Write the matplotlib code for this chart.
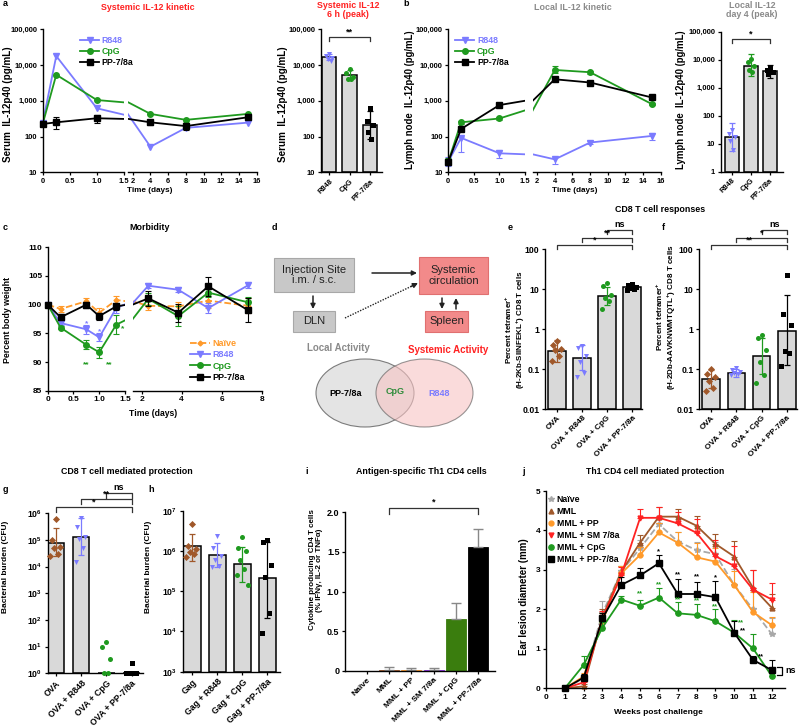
import matplotlib
matplotlib.use('Agg')
import matplotlib.pyplot as plt
import numpy as np
from matplotlib.patches import Ellipse, Rectangle
from matplotlib.lines import Line2D
from matplotlib.ticker import FuncFormatter, NullLocator
import matplotlib.transforms as mtransforms

plt.rcParams['font.family'] = ['Liberation Sans', 'DejaVu Sans']
plt.rcParams['font.weight'] = 'bold'
plt.rcParams['axes.linewidth'] = 1.0
plt.rcParams['font.size'] = 5.5
plt.rcParams['mathtext.fontset'] = 'custom'
plt.rcParams['mathtext.rm'] = 'Liberation Sans:bold'
plt.rcParams['mathtext.it'] = 'Liberation Sans:bold'
plt.rcParams['mathtext.bf'] = 'Liberation Sans:bold'

# ---------------- data ----------------
# a / b : IL-12 kinetics
t_kin = [0, 0.25, 1.0, 4, 8, 15]
a_r848 = [240, 17900, 616, 52, 175, 245]
a_cpg = [225, 5350, 1050, 430, 293, 430]
a_pp = [225, 250, 325, 250, 196, 346]
a_pp_lo = [195, 165, 235, 215, 150, 300]
a_pp_hi = [260, 360, 400, 290, 240, 400]

b_r848 = [20, 92, 34, 23, 68, 104]
b_r848_lo = [15, 36, 25, 17, 60, 78]
b_r848_hi = [26, 100, 41, 27, 75, 125]
b_cpg = [20, 250, 320, 7300, 6300, 810]
b_cpg_lo = [16, 225, 290, 6000, 5800, 750]
b_cpg_hi = [25, 275, 350, 9300, 6800, 870]
b_pp = [20, 163, 760, 4000, 3250, 1240]

# peak bars (a right, b right)
peak_names = ['R848', 'CpG', 'PP-7/8a']
a_peak_mean = [16500, 5300, 210]
a_peak_lo = [13500, 4000, 85]
a_peak_hi = [21000, 7500, 530]
a_peak_pts = [[21000, 18000, 16000, 15000, 13000],
              [7800, 6000, 4500, 4200, 4000],
              [620, 270, 210, 130, 85]]
b_peak_mean = [18, 6200, 3800]
b_peak_lo = [5.5, 2600, 2300]
b_peak_hi = [53, 16000, 6500]
b_peak_pts = [[30, 23, 17, 12, 6],
              [11000, 8500, 6000, 4300, 3500],
              [5000, 4400, 3700, 3000]]

# c : morbidity
t_c = [0, 0.25, 0.75, 1.0, 1.33, 2.33, 3.83, 5.33, 7.33]
c_naive = [100, 99.25, 100.6, 98.6, 100.8, 99.8, 99.7, 100.7, 99.8]
c_r848 = [100, 96.8, 95.7, 94.3, 99.4, 103.3, 102.6, 99.4, 103.4]
c_cpg = [100, 96.0, 93.0, 91.7, 96.5, 101.0, 98.0, 102.1, 100.4]
c_pp = [100, 97.8, 100.0, 98.0, 99.7, 101.1, 98.6, 103.2, 99.0]
c_naive_err = [0, 0.6, 0.6, 0.8, 0.7, 0.8, 0.8, 1.2, 1.3]
c_r848_err = [0, 0.4, 0.8, 0.7, 0.8, 0.4, 0.4, 0.9, 0.5]
c_cpg_err = [0, 0.3, 0.8, 1.0, 1.7, 1.0, 1.7, 0.8, 1.0]
c_pp_err = [0, 0.5, 0.5, 0.6, 0.6, 1.3, 1.6, 1.7, 2.1]

# e / f : tetramer
ef_names = ['OVA', 'OVA + R848', 'OVA + CpG', 'OVA + PP-7/8a']
e_mean = [0.29, 0.19, 6.8, 11.3]
e_lo = [0.155, 0.095, 4.1, 10.0]
e_hi = [0.54, 0.41, 11.7, 12.5]
e_pts = [[0.5, 0.4, 0.33, 0.3, 0.22, 0.16],
         [0.38, 0.34, 0.22, 0.15, 0.08, 0.065],
         [14.5, 12, 7, 6, 5, 3.3],
         [13.5, 12.5, 11.5, 11, 10, 9.5]]
f_mean = [0.057, 0.079, 0.22, 0.91]
f_lo = [0.034, 0.065, 0.077, 0.125]
f_hi = [0.095, 0.1, 0.6, 7.2]
f_pts = [[0.1, 0.075, 0.065, 0.05, 0.035, 0.028],
         [0.11, 0.095, 0.085, 0.08, 0.075, 0.07],
         [0.7, 0.6, 0.3, 0.15, 0.07, 0.045],
         [23, 2.4, 1.3, 0.28, 0.26, 0.12]]

# g / h : bacterial burden
g_mean = [79000, 126000, 1, 1]
g_lo = [24000, 27000, None, None]
g_hi = [270000, 650000, None, None]
g_pts = [[600000, 100000, 56000, 50000, 30000, 25000],
         [650000, 300000, 130000, 110000, 50000, 15000],
         [15, 10, 3.5, 1, 1],
         [2.5, 1, 1, 1, 1, 1]]
h_names = ['Gag', 'Gag + R848', 'Gag + CpG', 'Gag + PP-7/8a']
h_mean = [1.32e6, 7.9e5, 4.7e5, 2.1e5]
h_lo = [5.7e5, 4.0e5, 1.7e5, 2.1e4]
h_hi = [2.7e6, 1.55e6, 1.27e6, 1.7e6]
h_pts = [[4.7e6, 1.3e6, 1.1e6, 9.5e5, 8.5e5, 7e5],
         [2.3e6, 1.2e6, 7.5e5, 6e5, 4.2e5, 4e5],
         [2.2e6, 1.2e6, 1.0e6, 6e5, 3.5e5, 2.5e5, 1.4e5],
         [1.9e6, 1.7e6, 4.5e5, 2.3e5, 2.8e4, 8.9e3]]

# i : Th1 CD4
i_names = ['Naïve', 'MML', 'MML + PP', 'MML + SM 7/8a', 'MML + CpG', 'MML + PP-7/8a']
i_mean = [0, 0.012, 0.012, 0.012, 0.65, 1.56]
i_err = [0, 0.03, 0.025, 0.02, 0.21, 0.23]

# j : ear lesion
weeks = [1, 2, 3, 4, 5, 6, 7, 8, 9, 10, 11, 12]
j_naive = [0, 0.25, 1.9, 2.96, 3.55, 4.16, 3.72, 3.5, 3.4, 2.62, 2.0, 1.37]
j_mml = [0, 0.05, 1.8, 2.95, 3.69, 4.35, 4.35, 4.12, 3.66, 3.34, 2.55, 2.04]
j_pp = [0, 0.3, 1.7, 2.91, 3.38, 3.95, 3.69, 3.32, 3.21, 2.62, 1.93, 1.6]
j_sm = [0, 0.15, 1.77, 2.87, 4.32, 4.32, 4.18, 3.94, 3.35, 3.1, 2.5, 2.25]
j_cpg = [0, 0.59, 1.54, 2.25, 2.09, 2.3, 1.9, 1.86, 1.7, 1.41, 1.01, 0.31]
j_pp78 = [0, 0.27, 1.77, 2.62, 2.86, 3.17, 2.39, 2.39, 2.31, 1.41, 0.72, 0.46]
j_naive_err = [0, 0.05, 0.3, 0.15, 0.2, 0.2, 0.25, 0.2, 0.3, 0.4, 0.5, 0.4]
j_mml_err = [0, 0.05, 0.2, 0.15, 0.2, 0.25, 0.2, 0.25, 0.25, 0.4, 0.45, 0.35]
j_pp_err = [0, 0.1, 0.2, 0.2, 0.2, 0.25, 0.28, 0.35, 0.35, 0.35, 0.5, 0.2]
j_sm_err = [0, 0.05, 0.2, 0.2, 0.22, 0.28, 0.3, 0.35, 0.4, 0.5, 0.5, 0.42]
j_cpg_err = [0, 0.22, 0.15, 0.1, 0.15, 0.25, 0.28, 0.28, 0.3, 0.32, 0.36, 0.1]
j_pp78_err = [0, 0.1, 0.15, 0.2, 0.18, 0.22, 0.37, 0.3, 0.4, 0.3, 0.1, 0.25]

# colours
BLUE = '#7b7bff'
GREEN = '#1f9a1f'
ORANGE = '#ff9a2a'
BROWN = '#a0582a'
RED = '#ff2222'
GREYT = '#8a8a8a'
BARC = '#d9d9d9'

W, H = 800, 727
fig = plt.figure(figsize=(8, 7.27), dpi=100)


def px_ax(x0, y0, x1, y1):
    return fig.add_axes([x0 / W, 1 - y1 / H, (x1 - x0) / W, (y1 - y0) / H])


def ftext(x, y, s, **kw):
    kw.setdefault('ha', 'center')
    kw.setdefault('va', 'center')
    fig.text(x / W, 1 - y / H, s, **kw)


def style(ax, fs=5.4):
    for s in ['top', 'right']:
        ax.spines[s].set_visible(False)
    ax.tick_params(labelsize=fs, width=0.9, length=2.5, pad=1.5)


comma = FuncFormatter(lambda v, p: f'{v:,.0f}')
plain = FuncFormatter(lambda v, p: f'{v:g}')
power = FuncFormatter(lambda v, p: r'$10^{%d}$' % int(round(np.log10(v))))


def jitter(n):
    base = [0, -0.16, 0.16, -0.08, 0.08, -0.22, 0.22]
    return np.array(base[:n])


def bracket(ax, x1, x2, yf, txt, leg=0.028, fs=6.5):
    tr = mtransforms.blended_transform_factory(ax.transData, ax.transAxes)
    ax.plot([x1, x1, x2, x2], [yf - leg, yf, yf, yf - leg], color='#333333', lw=0.9,
            transform=tr, clip_on=False)
    ax.text((x1 + x2) / 2, yf + 0.005, txt, ha='center', va='bottom', fontsize=fs,
            transform=tr)


def bar_panel(ax, names, means, lo, hi, pts, colors, markers, bottom, width=0.68,
              ms=3.6, fs=5.4, xfs=5.4):
    x = np.arange(len(names))
    ax.bar(x, np.array(means) - bottom, bottom=bottom, width=width, color=BARC,
           edgecolor='k', lw=1.1, zorder=1)
    for i in range(len(names)):
        p = pts[i]
        ax.scatter(i + jitter(len(p)), p, marker=markers[i], color=colors[i],
                   s=ms ** 2, zorder=3, clip_on=False, lw=0)
        if lo[i] is not None:
            ax.errorbar(i, means[i], yerr=[[means[i] - lo[i]], [hi[i] - means[i]]],
                        fmt='none', ecolor=colors[i], capsize=2.2, elinewidth=0.9,
                        capthick=0.9, zorder=4)
    ax.set_xticks(x)
    ax.set_xticklabels(names, rotation=45, ha='right', rotation_mode='anchor')
    style(ax, fs)
    ax.tick_params(axis='x', labelsize=xfs)


def kinetic(xl0, xl1, xr0, xr1, yt, yb, ylim, xr_lim, t, series, xticksR, fmt):
    axL = px_ax(xl0, yt, xl1, yb)
    axR = px_ax(xr0, yt, xr1, yb)
    handles = []
    for ax, lim in ((axL, (0, 1.5)), (axR, xr_lim)):
        ax.set_yscale('log')
        ax.set_ylim(ylim)
        ax.set_xlim(lim)
        for label, y, lo, hi, col, mk, ls in series:
            ax.plot(t, y, color=col, lw=1.3, ls=ls)
            tt = np.array(t)
            yy = np.array(y)
            m = (tt >= lim[0]) & (tt <= lim[1])
            ax.plot(tt[m], yy[m], ls='none', marker=mk, color=col, ms=4, clip_on=False)
            if lo is not None:
                lo_a, hi_a = np.array(lo), np.array(hi)
                ax.errorbar(tt[m], yy[m], yerr=[yy[m] - lo_a[m], hi_a[m] - yy[m]],
                            fmt='none', ecolor=col, capsize=2, elinewidth=0.8,
                            capthick=0.8, clip_on=False)
            if ax is axL:
                handles.append(Line2D([], [], color=col, lw=1.3, ls=ls, marker=mk,
                                      ms=4, label=label))
        style(ax, 5.4)
        ax.yaxis.set_minor_locator(NullLocator())
    axL.yaxis.set_major_formatter(fmt)
    axL.set_xticks([0, 0.5, 1.0, 1.5])
    axL.set_xticklabels(['0', '0.5', '1.0', '1.5'])
    axR.set_xticks(xticksR)
    axR.spines['left'].set_visible(False)
    axR.tick_params(left=False, labelleft=False)
    return axL, axR, handles


def colored_legend(handles, x, y, fs=6.3, textcolor=True):
    leg = fig.legend(handles=handles, loc='upper left', bbox_to_anchor=(x / W, 1 - y / H),
                     frameon=False, fontsize=fs, handlelength=2.2, handletextpad=0.3,
                     labelspacing=0.25, borderaxespad=0, borderpad=0)
    if textcolor:
        for txt, h in zip(leg.get_texts(), handles):
            txt.set_color(h.get_color())
    return leg


# ---------------- panel a ----------------
axL, axR, hs = kinetic(42.7, 124, 128.3, 256.7, 29.3, 172.3, (10, 100000), (1.5, 16),
                       t_kin,
                       [('R848', a_r848, None, None, BLUE, 'v', '-'),
                        ('CpG', a_cpg, None, None, GREEN, 'o', '-'),
                        ('PP-7/8a', a_pp, a_pp_lo, a_pp_hi, 'k', 's', '-')],
                       [2, 4, 6, 8, 10, 12, 14, 16], comma)
colored_legend(hs, 80, 36)
ftext(150, 190, 'Time (days)', fontsize=5.9)
ftext(8, 104, 'Serum  IL-12p40 (pg/mL)', rotation=90, fontsize=7.1)
ftext(148, 7, 'Systemic IL-12 kinetic', color=RED, fontsize=6.4)

ax = px_ax(320.7, 29.3, 382, 172.3)
ax.set_yscale('log')
ax.set_ylim(10, 100000)
bar_panel(ax, peak_names, a_peak_mean, a_peak_lo, a_peak_hi, a_peak_pts,
          [BLUE, GREEN, 'k'], ['v', 'o', 's'], 10, width=0.7)
ax.set_xlim(-0.42, 2.6)
ax.yaxis.set_minor_locator(NullLocator())
ax.yaxis.set_major_formatter(comma)
bracket(ax, 0, 2, 0.944, '**')
ftext(283, 104, 'Serum  IL-12p40 (pg/mL)', rotation=90, fontsize=7.1)
ftext(348, 10, 'Systemic IL-12\n6 h (peak)', color=RED, fontsize=6.4, linespacing=1.1)

# ---------------- panel b ----------------
axL, axR, hs = kinetic(448.3, 525, 532.7, 660.7, 29.3, 172.3, (10, 100000), (1.5, 16),
                       t_kin,
                       [('R848', b_r848, b_r848_lo, b_r848_hi, BLUE, 'v', '-'),
                        ('CpG', b_cpg, b_cpg_lo, b_cpg_hi, GREEN, 'o', '-'),
                        ('PP-7/8a', b_pp, None, None, 'k', 's', '-')],
                       [2, 4, 6, 8, 10, 12, 14, 16], comma)
colored_legend(hs, 455, 36)
ftext(575, 190, 'Time (days)', fontsize=5.9)
ftext(410, 100, 'Lymph node  IL-12p40 (pg/mL)', rotation=90, fontsize=6.9)
ftext(573, 7, 'Local IL-12 kinetic', color=GREYT, fontsize=6.4)

ax = px_ax(720.7, 31.7, 783, 171.7)
ax.set_yscale('log')
ax.set_ylim(1, 100000)
bar_panel(ax, peak_names, b_peak_mean, b_peak_lo, b_peak_hi, b_peak_pts,
          [BLUE, GREEN, 'k'], ['v', 'o', 's'], 1, width=0.75)
ax.set_xlim(-0.58, 2.7)
ax.yaxis.set_minor_locator(NullLocator())
ax.yaxis.set_major_formatter(comma)
bracket(ax, 0, 2, 0.946, '*')
ftext(681, 100, 'Lymph node  IL-12p40 (pg/mL)', rotation=90, fontsize=6.9)
ftext(752, 10, 'Local IL-12\nday 4 (peak)', color=GREYT, fontsize=6.4, linespacing=1.1)

# ---------------- panel c ----------------
axL = px_ax(47.7, 247.3, 125, 390.7)
axR = px_ax(132.7, 247.3, 261.7, 390.7)
c_series = [('Naïve', c_naive, c_naive_err, ORANGE, 'D', '--', 2.5),
            ('R848', c_r848, c_r848_err, BLUE, 'v', '-', 4),
            ('CpG', c_cpg, c_cpg_err, GREEN, 'o', '-', 4),
            ('PP-7/8a', c_pp, c_pp_err, 'k', 's', '-', 4)]
c_handles = []
for ax, lim in ((axL, (0, 1.5)), (axR, (1.55, 8))):
    ax.set_xlim(lim)
    ax.set_ylim(85, 110)
    tt = np.array(t_c)
    m = (tt >= lim[0]) & (tt <= lim[1])
    for label, y, err, col, mk, ls, ms in c_series:
        yy = np.array(y)
        ee = np.array(err)
        ax.plot(tt, yy, color=col, lw=1.3, ls=ls)
        ax.errorbar(tt[m], yy[m], yerr=ee[m], fmt='none', ecolor=col, capsize=2,
                    elinewidth=0.8, capthick=0.8, clip_on=False)
        ax.plot(tt[m], yy[m], ls='none', marker=mk, ms=ms, color=col, clip_on=False)
        if ax is axL:
            c_handles.append(Line2D([], [], color=col, lw=1.3, ls=ls, marker=mk, ms=ms,
                                    label=label))
    style(ax, 6.0)
axL.set_yticks([85, 90, 95, 100, 105, 110])
axL.set_xticks([0, 0.5, 1.0, 1.5])
axL.set_xticklabels(['0', '0.5', '1.0', '1.5'])
axR.set_xticks([2, 4, 6, 8])
axR.spines['left'].set_visible(False)
axR.tick_params(left=False, labelleft=False)
for x, y, s, col in [(0.75, 96.7, '*', BLUE), (1.0, 95.3, '*', BLUE),
                     (0.75, 89.6, '**', GREEN), (1.2, 89.6, '**', GREEN),
                     (1.45, 95.8, '*', GREEN)]:
    axL.text(x, y, s, color=col, fontsize=6, ha='center', va='center')
colored_legend(c_handles, 190, 339, fs=6.5)
ftext(153, 413, 'Time (days)', fontsize=6.2)
ftext(8, 320, 'Percent body weight', rotation=90, fontsize=6.3)
ftext(150, 228, 'Morbidity', fontsize=6.4)

# ---------------- panel e / f ----------------
for (x0, x1, means, lo, hi, pts, stars, ylab, ylx, yly) in [
        (545, 642, e_mean, e_lo, e_hi, e_pts, ['*', '**', 'ns'],
         'Percent tetramer$^{+}$\n(H-2Kb-SIINFEKL$^{+}$) CD8 T cells', 515, 330),
        (699, 797, f_mean, f_lo, f_hi, f_pts, ['**', '*', 'ns'],
         'Percent tetramer$^{+}$\n(H-2Db-AAVKNWMTQTL$^{+}$) CD8 T cells', 666, 317)]:
    ax = px_ax(x0, 249.3, x1, 409.3)
    ax.set_yscale('log')
    ax.set_ylim(0.01, 100)
    bar_panel(ax, ef_names, means, lo, hi, pts, [BROWN, BLUE, GREEN, 'k'],
              ['D', 'v', 'o', 's'], 0.01, width=0.69, fs=6.3, xfs=5.9)
    ax.set_xlim(-0.48, 3.4)
    ax.yaxis.set_minor_locator(NullLocator())
    ax.yaxis.set_major_formatter(plain)
    bracket(ax, 0, 3, 1.027, stars[0], leg=0.025)
    bracket(ax, 1, 3, 1.069, stars[1], leg=0.025)
    bracket(ax, 2, 3, 1.121, stars[2], leg=0.025)
    ftext(ylx, yly, ylab, rotation=90, fontsize=5.8, linespacing=1.1)
ftext(660, 209, 'CD8 T cell responses', fontsize=6.4)

# ---------------- panel g ----------------
ax = px_ax(47.7, 513.3, 143, 673.3)
ax.set_yscale('log')
ax.set_ylim(1, 1e6)
bar_panel(ax, ef_names, g_mean, g_lo, g_hi, g_pts, [BROWN, BLUE, GREEN, 'k'],
          ['D', 'v', 'o', 's'], 1, width=0.65, fs=6.2, xfs=6.3)
ax.set_xlim(-0.33, 3.45)
ax.yaxis.set_minor_locator(NullLocator())
ax.set_yticks([1, 10, 100, 1e3, 1e4, 1e5, 1e6])
ax.yaxis.set_major_formatter(power)
bracket(ax, 0, 3, 1.0375, '*', leg=0.03)
bracket(ax, 1, 3, 1.0875, '**', leg=0.03)
bracket(ax, 2, 3, 1.125, 'ns', leg=0.03)
ftext(6, 567, 'Bacterial burden (CFU)', rotation=90, fontsize=6.0)
ftext(127, 471, 'CD8 T cell mediated protection', fontsize=6.4)

# ---------------- panel h ----------------
ax = px_ax(182.7, 510.7, 280, 671.7)
ax.set_yscale('log')
ax.set_ylim(1e3, 1e7)
bar_panel(ax, h_names, h_mean, h_lo, h_hi, h_pts, [BROWN, BLUE, GREEN, 'k'],
          ['D', 'v', 'o', 's'], 1e3, width=0.68, fs=6.2, xfs=6.3)
ax.set_xlim(-0.37, 3.5)
ax.yaxis.set_minor_locator(NullLocator())
ax.set_yticks([1e3, 1e4, 1e5, 1e6, 1e7])
ax.yaxis.set_major_formatter(power)
ftext(148, 567, 'Bacterial burden (CFU)', rotation=90, fontsize=6.0)

# ---------------- panel i ----------------
ax = px_ax(345, 512.3, 495, 670.7)
i_cols = ['#999999', BROWN, ORANGE, '#8a2be2', '#3a7d0e', 'k']
xi = np.arange(len(i_names))
ax.bar(xi, i_mean, width=0.9, color=i_cols, edgecolor=i_cols, lw=0.6)
for k in range(len(i_names)):
    if i_err[k] > 0:
        ax.errorbar(k, i_mean[k], yerr=[[0], [i_err[k]]], fmt='none', ecolor='#888888',
                    capsize=3.5, elinewidth=1, capthick=1)
ax.set_xlim(-0.97, 5.75)
ax.set_ylim(0, 2.0)
ax.set_yticks([0, 0.5, 1.0, 1.5, 2.0])
ax.set_yticklabels(['0', '0.5', '1.0', '1.5', '2.0'])
ax.set_xticks(xi)
ax.set_xticklabels(i_names, rotation=45, ha='right', rotation_mode='anchor')
style(ax, 6.5)
ax.tick_params(axis='x', labelsize=6.0)
bracket(ax, 1, 5, 1.03, '*', leg=0.04)
ftext(316, 570, 'Cytokine producing CD4 T cells\n(% IFNγ, IL-2 or TNFα)', rotation=90,
      fontsize=5.8, linespacing=1.1)
ftext(421, 471, 'Antigen-specific Th1 CD4 cells', fontsize=6.4)

# ---------------- panel j ----------------
ax = px_ax(546, 491, 785, 688.3)
j_series = [('Naïve', j_naive, j_naive_err, '#a8a8a8', '*', '--', 4),
            ('MML', j_mml, j_mml_err, BROWN, '^', '-', 3.5),
            ('MML + PP', j_pp, j_pp_err, ORANGE, 'o', '-', 3.5),
            ('MML + SM 7/8a', j_sm, j_sm_err, RED, 'v', '-', 3.5),
            ('MML + CpG', j_cpg, j_cpg_err, GREEN, 'o', '-', 3.8),
            ('MML + PP-7/8a', j_pp78, j_pp78_err, 'k', 's', '-', 3.8)]
j_handles = []
for label, y, err, col, mk, ls, ms in j_series:
    ax.errorbar(weeks, y, yerr=[np.zeros(len(err)), err], fmt='none', ecolor=col,
                capsize=2, elinewidth=0.8, capthick=0.8)
    ax.plot(weeks, y, color=col, ls=ls, lw=1.3, marker=mk, ms=ms, clip_on=False)
    j_handles.append(Line2D([], [], ls='none', marker=mk, ms=ms, color=col, label=label))
ax.set_xlim(0, 12.7)
ax.set_ylim(0, 5)
ax.set_xticks(range(13))
ax.set_yticks(range(6))
style(ax, fs=6)
for x, y, s, col in [(6, 3.45, '*', 'k'), (7, 2.88, '**', 'k'), (8, 2.83, '**', 'k'),
                     (9, 2.8, '*', 'k'), (10.45, 1.45, '**', 'k'), (11.45, 0.8, '**', 'k'),
                     (5, 2.4, '**', GREEN), (6, 2.62, '**', GREEN), (7, 2.25, '**', GREEN),
                     (8, 2.22, '**', GREEN), (9, 2.06, '**', GREEN),
                     (10.35, 1.66, '**', GREEN)]:
    ax.text(x, y, s, color=col, fontsize=5.5, ha='center', va='center')
ax.plot([12.3, 12.55, 12.55, 12.3], [0.55, 0.55, 0.33, 0.33], color='k', lw=0.9,
        clip_on=False)
ax.text(12.7, 0.44, 'ns', fontsize=6.5, ha='left', va='center')
ax.legend(handles=j_handles, loc='upper left', bbox_to_anchor=(0.005, 0.98),
          frameon=False, fontsize=6.3, handlelength=0.8, handletextpad=0.3,
          labelspacing=0.35, borderaxespad=0, borderpad=0)
ftext(658, 713, 'Weeks post challenge', fontsize=6.0)
ftext(524, 597, 'Ear lesion diameter (mm)', rotation=90, fontsize=7.0)
ftext(655, 471, 'Th1 CD4 cell mediated protection', fontsize=6.2)

# ---------------- panel d (diagram) & letters ----------------
ov = fig.add_axes([0, 0, 1, 1])
ov.set_xlim(0, W)
ov.set_ylim(H, 0)
ov.axis('off')
ov.patch.set_visible(False)

for (x0, y0, x1, y1, fc, ec, txt) in [
        (274, 258, 354, 292, '#c8c8c8', '#a8a8a8', 'Injection Site\ni.m. / s.c.'),
        (293, 311, 335, 332, '#c8c8c8', '#a8a8a8', 'DLN'),
        (419, 257, 488, 294, '#f28a8a', '#e07070', 'Systemic\ncirculation'),
        (425, 311, 468, 332, '#f28a8a', '#e07070', 'Spleen')]:
    ov.add_patch(Rectangle((x0, y0), x1 - x0, y1 - y0, facecolor=fc, edgecolor=ec, lw=0.8))
    ov.text((x0 + x1) / 2, (y0 + y1) / 2, txt, ha='center', va='center', fontsize=8,
            fontweight='normal', linespacing=1.05, color='#222222')

arrow = dict(arrowstyle='-|>', color='#222222', lw=1.1, mutation_scale=7,
             shrinkA=0, shrinkB=0)
ov.annotate('', xy=(417, 273), xytext=(372, 273), arrowprops=arrow)
ov.annotate('', xy=(313, 309), xytext=(313, 296), arrowprops=arrow)
ov.annotate('', xy=(442, 309), xytext=(442, 298), arrowprops=arrow)
ov.annotate('', xy=(456, 298), xytext=(456, 309), arrowprops=arrow)
ov.plot([345, 412], [318, 286], color='#222222', lw=1.0, ls=(0, (1, 1)))
ov.annotate('', xy=(418, 283), xytext=(411, 286.5), arrowprops=arrow)

ov.add_patch(Ellipse((365, 393), 98, 68, facecolor='#dcdcdc', edgecolor='#555555',
                     lw=0.8, alpha=0.75))
ov.add_patch(Ellipse((424.5, 393), 97, 68, facecolor='#f8c4c4', edgecolor='#555555',
                     lw=0.8, alpha=0.6))
ov.text(346, 393, 'PP-7/8a', ha='center', va='center', fontsize=6.5)
ov.text(395, 392, 'CpG', ha='center', va='center', fontsize=6.5, color='#2e8b3a')
ov.text(439, 393, 'R848', ha='center', va='center', fontsize=6.5, color=BLUE)
ov.text(338, 348, 'Local Activity', ha='center', va='center', fontsize=7, color=GREYT)
ov.text(448, 350, 'Systemic Activity', ha='center', va='center', fontsize=7, color=RED)

for (x, y, s) in [(3, 4, 'a'), (403, 4, 'b'), (3, 228, 'c'), (272, 228, 'd'),
                  (508, 227, 'e'), (662, 227, 'f'), (3, 489, 'g'), (148, 489, 'h'),
                  (305, 471, 'i'), (522, 471, 'j')]:
    ov.text(x, y, s, ha='left', va='center', fontsize=6.5)

fig.savefig('out.png', dpi=100)
